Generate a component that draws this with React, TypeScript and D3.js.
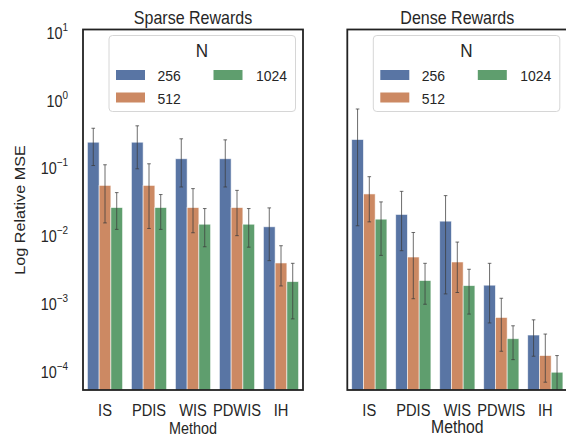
import React from "react";
import * as d3 from "d3";

const methods = ["IS", "PDIS", "WIS", "PDWIS", "IH"];
const sizes = ["256", "512", "1024"];
const colors = ["#5975a4", "#cc8963", "#5f9e6e"];
const yTickExps = [1, 0, -1, -2, -3, -4];

// Sparse rewards: mean, lower and upper error bounds per N
const sparseMean256 = [0.252, 0.252, 0.1436, 0.1436, 0.0142];
const sparseMean512 = [0.058, 0.058, 0.0273, 0.0273, 0.00415];
const sparseMean1024 = [0.0273, 0.0273, 0.0155, 0.0155, 0.0022];
const sparseLo256 = [0.114, 0.102, 0.055, 0.055, 0.00449];
const sparseHi256 = [0.405, 0.44, 0.283, 0.273, 0.027];
const sparseLo512 = [0.0162, 0.0134, 0.0116, 0.0105, 0.0019];
const sparseHi512 = [0.117, 0.121, 0.052, 0.049, 0.00746];
const sparseLo1024 = [0.013, 0.013, 0.0072, 0.0071, 0.00062];
const sparseHi1024 = [0.0454, 0.0425, 0.0264, 0.0264, 0.0041];

// Dense rewards
const denseMean256 = [0.276, 0.0216, 0.0172, 0.00195, 0.000358];
const denseMean512 = [0.0434, 0.00508, 0.00429, 0.00065, 0.000178];
const denseMean1024 = [0.0184, 0.00228, 0.00192, 0.000316, 0.000101];
const denseLo256 = [0.0147, 0.0063, 0.00145, 0.00054, 0.000174];
const denseHi256 = [0.78, 0.0474, 0.041, 0.0041, 0.0006];
const denseLo512 = [0.0168, 0.00123, 0.00152, 0.000206, 0.000072];
const denseHi512 = [0.078, 0.0117, 0.00844, 0.00125, 0.00037];
const denseLo1024 = [0.00537, 0.00102, 0.00073, 0.000155, 0.00005];
const denseHi1024 = [0.0331, 0.0041, 0.00335, 0.00049, 0.000178];

const FONT = "Liberation Sans, Arial, Helvetica, sans-serif";
const TXT = "#262626";
const SX = 0.9;

const W = 566, H = 437;
const TOP = 29.5, BOTTOM = 390, PW = 220;

const y = d3.scaleLog().domain([Math.pow(10, 1.066), Math.pow(10, -4.258)]).range([TOP, BOTTOM]);

function T({ x, y, size, anchor = "middle", sx = SX, children, weight }: any) {
  return (
    <text transform={`translate(${x},${y}) scale(${sx},1)`} fontSize={size} textAnchor={anchor}
      fontFamily={FONT} fill={TXT} fontWeight={weight}>{children}</text>
  );
}

function Panel({ left, title, means, los, his, showY, methodSize, methodY, id }: any) {
  const x = d3.scaleBand().domain(methods).range([left, left + PW]).paddingInner(0.2).paddingOuter(0.1);
  const hue = d3.scaleBand().domain(sizes).range([0, x.bandwidth()]).padding(0);
  const clipId = `clip-${id}`;
  const legX = left + 26;
  return (
    <g>
      <defs>
        <clipPath id={clipId}><rect x={left} y={TOP} width={PW} height={BOTTOM - TOP} /></clipPath>
      </defs>
      <g clipPath={`url(#${clipId})`}>
        {sizes.map((s, si) =>
          methods.map((m, mi) => {
            const bx = (x(m) as number) + (hue(s) as number);
            const bw = hue.bandwidth();
            const v = means[si][mi];
            return (
              <rect key={s + m} x={bx} y={y(v)} width={bw} height={BOTTOM + 5 - y(v)}
                fill={colors[si]} stroke="#ffffff" strokeOpacity={0.7} strokeWidth={0.8} />
            );
          })
        )}
        {sizes.map((s, si) =>
          methods.map((m, mi) => {
            const cx = (x(m) as number) + (hue(s) as number) + hue.bandwidth() / 2;
            const y0 = y(his[si][mi]);
            const y1 = y(los[si][mi]);
            return (
              <g key={"e" + s + m} stroke="#3c3c3c" strokeOpacity={0.75} strokeWidth={1}>
                <line x1={cx} x2={cx} y1={y0} y2={y1} />
                <line x1={cx - 1.8} x2={cx + 1.8} y1={y0} y2={y0} />
                <line x1={cx - 1.8} x2={cx + 1.8} y1={y1} y2={y1} />
              </g>
            );
          })
        )}
      </g>
      {/* spines */}
      <rect x={left} y={TOP} width={PW} height={BOTTOM - TOP} fill="none" stroke="#222" strokeWidth={1.8} />
      {/* title */}
      <T x={left + PW / 2} y={23.5} size={17.8}>{title}</T>
      {/* x ticks */}
      {methods.map((m) => (
        <T key={m} x={(x(m) as number) + x.bandwidth() / 2} y={415.5} size={16.3}>{m}</T>
      ))}
      <T x={left + PW / 2} y={methodY} size={methodSize}>Method</T>
      {/* y ticks */}
      {showY && yTickExps.map((e) => (
        <text key={e} transform={`translate(68,${y(Math.pow(10, e)) + 5}) scale(${SX},1)`} textAnchor="end"
          fontFamily={FONT} fill={TXT} fontSize={16}>
          <tspan>10</tspan>
          <tspan dy={-8} fontSize={11}>{e < 0 ? "\u2212" + Math.abs(e) : String(e)}</tspan>
        </text>
      ))}
      {/* legend */}
      <rect x={legX} y={35.5} width={186.5} height={76} rx={3.5} fill="#ffffff" fillOpacity={0.85}
        stroke="#d6d6d6" strokeWidth={1} />
      <T x={legX + 93} y={57} size={19}>N</T>
      {sizes.map((s, si) => {
        const col = si === 2 ? 1 : 0;
        const row = si === 2 ? 0 : si;
        const cy = row === 0 ? 75 : 97.5;
        const px = legX + (col === 0 ? 7 : 104.5);
        const tx = legX + (col === 0 ? 48.5 : 147);
        return (
          <g key={"l" + s}>
            <rect x={px} y={cy - 5} width={29} height={10} fill={colors[si]} />
            <T x={tx} y={cy + 6} size={15.5} anchor="start">{s}</T>
          </g>
        );
      })}
    </g>
  );
}

export default function App() {
  const sparseMeans = [sparseMean256, sparseMean512, sparseMean1024];
  const sparseLos = [sparseLo256, sparseLo512, sparseLo1024];
  const sparseHis = [sparseHi256, sparseHi512, sparseHi1024];
  const denseMeans = [denseMean256, denseMean512, denseMean1024];
  const denseLos = [denseLo256, denseLo512, denseLo1024];
  const denseHis = [denseHi256, denseHi512, denseHi1024];
  return (
    <svg width={W} height={H} style={{ position: "absolute", left: 0, top: 0, background: "#fff" }}>
      <rect width={W} height={H} fill="#fff" />
      <text transform={`translate(24.5,210) rotate(-90) scale(1,0.95)`} textAnchor="middle"
        fontFamily={FONT} fill={TXT} fontSize={16.2}>Log Relative MSE</text>
      <Panel id="s" left={83} title="Sparse Rewards" means={sparseMeans} los={sparseLos} his={sparseHis}
        showY={true} methodSize={16} methodY={434} />
      <Panel id="d" left={347.3} title="Dense Rewards" means={denseMeans} los={denseLos} his={denseHis}
        showY={false} methodSize={17.5} methodY={433} />
    </svg>
  );
}
